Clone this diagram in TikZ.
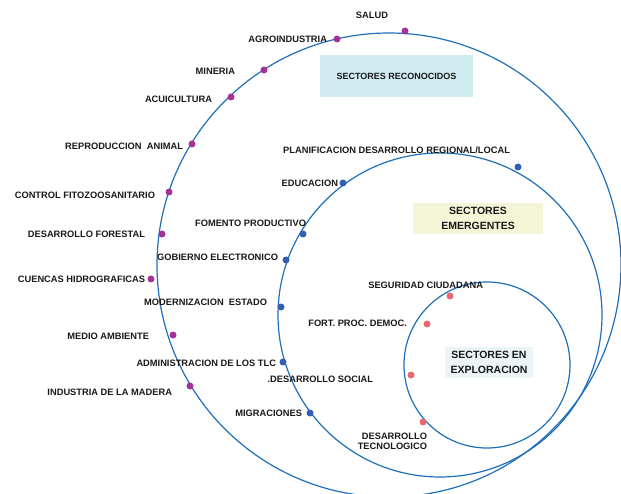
\documentclass[tikz,border=0pt]{standalone}
\usepackage{fontspec}
\setmainfont{Liberation Sans}
\usetikzlibrary{positioning}
\definecolor{ring}{RGB}{30,110,185}
\definecolor{dotout}{RGB}{165,50,150}
\definecolor{dotmid}{RGB}{50,95,180}
\definecolor{dotin}{RGB}{235,105,110}
\definecolor{boxrec}{RGB}{208,236,240}
\definecolor{boxemg}{RGB}{244,245,215}
\definecolor{boxexp}{RGB}{235,244,246}
\definecolor{ink}{RGB}{25,25,25}
\tikzset{
  ring/.style={draw=ring, line width=1.2pt},
  lbl/.style={font=\fontsize{9.3}{10.5}\selectfont\bfseries, text=ink},
  sbox/.style={font=\fontsize{10.5}{15}\selectfont\bfseries, text=ink, align=center},
  odot/.style={circle, fill=dotout, minimum size=7pt},
  mdot/.style={circle, fill=dotmid, minimum size=7pt},
  idot/.style={circle, fill=dotin, minimum size=7pt}
}

\begin{document}
\begin{tikzpicture}[y=-1pt, x=1pt, inner sep=0pt, outer sep=0pt]
\useasboundingbox (0,0) rectangle (621,494);
% the three sector circles
\draw [ring] (389,265) circle [radius=232pt];
\draw [ring] (440,315) circle [radius=162pt];
\draw [ring] (487,365) circle [radius=83pt];

% titles
\node [sbox, fill=boxrec, minimum width=153pt, minimum height=42pt, font=\fontsize{9}{10}\selectfont\bfseries] (rec) at (396.5,76) {SECTORES RECONOCIDOS};
\node [sbox, fill=boxemg, minimum width=130pt, minimum height=31pt] (emg) at (478,218.5) {SECTORES\\EMERGENTES};
\node [sbox, fill=boxexp, minimum width=88pt, minimum height=31pt] (exp) at (489,362.5) {SECTORES EN\\EXPLORACION};

% reconocidos
\node [odot] (salud) at (405,31) {};
\node [lbl] (tSalud) at (372,15) {SALUD};
\node [odot] (agro) at (337,39) {};
\node [lbl, left] (tAgro) at (327,39.5) {AGROINDUSTRIA};
\node [odot] (mine) at (264,70) {};
\node [lbl, left] (tMine) at (235,71) {MINERIA};
\node [odot] (acui) at (231,97) {};
\node [lbl, left] (tAcui) at (212,99) {ACUICULTURA};
\node [odot] (repro) at (192,144) {};
\node [lbl, left] (tRepro) at (183,146) {REPRODUCCION\ \ ANIMAL};
\node [odot] (fito) at (169,192) {};
\node [lbl, left] (tFito) at (155,195) {CONTROL FITOZOOSANITARIO};
\node [odot] (fores) at (162,234) {};
\node [lbl, left] (tFores) at (145,234) {DESARROLLO FORESTAL};
\node [odot] (cuen) at (151,279) {};
\node [lbl, left] (tCuen) at (145,279) {CUENCAS HIDROGRAFICAS};
\node [odot] (medio) at (173,335) {};
\node [lbl, left] (tMedio) at (149,336) {MEDIO AMBIENTE};
\node [odot] (mader) at (190,386) {};
\node [lbl, left] (tMader) at (172,392) {INDUSTRIA DE LA MADERA};

% emergentes
\node [mdot] (plan) at (518,167) {};
\node [lbl, left] (tPlan) at (510,150) {PLANIFICACION DESARROLLO REGIONAL/LOCAL};
\node [mdot] (educ) at (343,183) {};
\node [lbl, left] (tEduc) at (338,183) {EDUCACION};
\node [mdot] (fomen) at (303,234) {};
\node [lbl, left] (tFomen) at (306,223) {FOMENTO PRODUCTIVO};
\node [mdot] (gobie) at (286,260) {};
\node [lbl, left] (tGobie) at (278,257) {GOBIERNO ELECTRONICO};
\node [mdot] (moder) at (281,307) {};
\node [lbl, left] (tModer) at (267,302) {MODERNIZACION\ \ ESTADO};
\node [mdot] (tlc) at (283,362) {};
\node [lbl, left] (tTlc) at (276,363) {ADMINISTRACION DE LOS TLC};
\node [mdot] (migra) at (310,413) {};
\node [lbl, left] (tMigra) at (302,413) {MIGRACIONES};

% exploracion
\node [idot] (segur) at (450,296) {};
\node [lbl, left] (tSegur) at (483,285) {SEGURIDAD CIUDADANA};
\node [idot] (democ) at (427,324) {};
\node [lbl, left] (tDemoc) at (407,323) {FORT. PROC. DEMOC.};
\node [idot] (social) at (411,375) {};
\node [lbl, left] (tSocial) at (373,379) {.DESARROLLO SOCIAL};
\node [idot] (tecno) at (423,422) {};
\node [lbl, left, align=right] (tTecno) at (427,441.5) {DESARROLLO\\TECNOLOGICO};

\end{tikzpicture}
\end{document}
